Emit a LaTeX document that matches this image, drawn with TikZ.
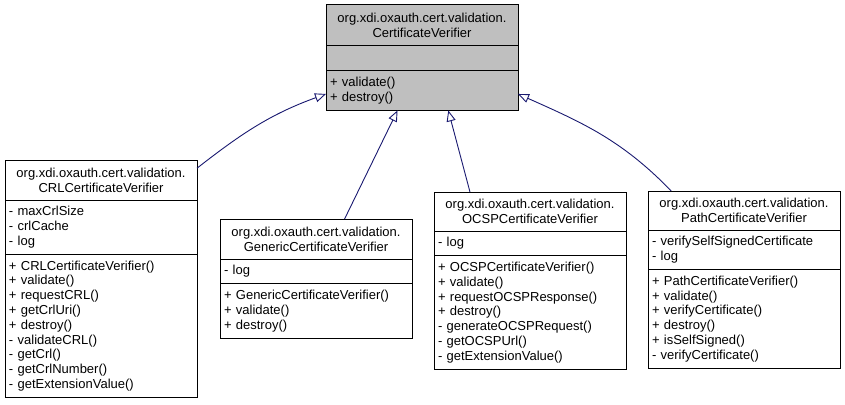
\documentclass[tikz,border=0pt]{standalone}
\usepackage{fontspec}
\setmainfont{Liberation Sans}
\usetikzlibrary{positioning,arrows.meta}
\definecolor{edgeblue}{HTML}{191970}
\definecolor{basegray}{HTML}{BFBFBF}
\begin{document}
\begin{tikzpicture}[x=1pt,y=-1pt,
    clsbox/.style={draw=black,fill=white,line width=1pt,text width=184pt,inner xsep=4pt,inner ysep=0pt,outer sep=0pt,font=\fontsize{13}{14.8}\selectfont},
    clsname/.style={clsbox,align=center,minimum height=40pt,anchor=north west},
    clspart/.style={clsbox,align=left,minimum height={14.8pt*#1+10pt}},
    inherit/.style={draw=edgeblue,line width=.9pt,-{Triangle[open,length=11pt,width=9pt]}}]
    \useasboundingbox (0,0) rectangle (845,404);
    % base class
    \node[clsname,fill=basegray,minimum height=41pt] (base) at (326,5) {org.xdi.oxauth.cert.validation.\\CertificateVerifier};
    \node[clspart=1,fill=basegray,below=0pt of base] (baseattr) {};
    \node[clspart=2,fill=basegray,below=0pt of baseattr] (baseop) {+ validate()\\+ destroy()};
    % derived classes
    \node[clsname] (crl) at (5,160) {org.xdi.oxauth.cert.validation.\\CRLCertificateVerifier};
    \node[clspart=3,below=0pt of crl] (crlattr) {- maxCrlSize\\- crlCache\\- log};
    \node[clspart=9,below=0pt of crlattr] (crlop) {+ CRLCertificateVerifier()\\+ validate()\\+ requestCRL()\\+ getCrlUri()\\+ destroy()\\- validateCRL()\\- getCrl()\\- getCrlNumber()\\- getExtensionValue()};
    \node[clsname] (generic) at (220,219) {org.xdi.oxauth.cert.validation.\\GenericCertificateVerifier};
    \node[clspart=1,below=0pt of generic] (genericattr) {- log};
    \node[clspart=3,below=0pt of genericattr] (genericop) {+ GenericCertificateVerifier()\\+ validate()\\+ destroy()};
    \node[clsname,minimum height=39pt] (ocsp) at (434,192) {org.xdi.oxauth.cert.validation.\\OCSPCertificateVerifier};
    \node[clspart=1,below=0pt of ocsp] (ocspattr) {- log};
    \node[clspart=7,below=0pt of ocspattr] (ocspop) {+ OCSPCertificateVerifier()\\+ validate()\\+ requestOCSPResponse()\\+ destroy()\\- generateOCSPRequest()\\- getOCSPUrl()\\- getExtensionValue()};
    \node[clsname,minimum height=39pt] (pathcv) at (648,191) {org.xdi.oxauth.cert.validation.\\PathCertificateVerifier};
    \node[clspart=2,below=0pt of pathcv] (pathcvattr) {- verifySelfSignedCertificate\\- log};
    \node[clspart=6,below=0pt of pathcvattr] (pathcvop) {+ PathCertificateVerifier()\\+ validate()\\+ verifyCertificate()\\+ destroy()\\+ isSelfSigned()\\- verifyCertificate()};
    % inheritance
    \draw[inherit] (crl.7) to[out=38,in=200] (baseop.182);
    \draw[inherit] (generic.35) -- (baseop.219);
    \draw[inherit] (ocsp.162) -- (baseop.-37);
    \draw[inherit] (pathcv.165) to[out=134,in=-24] (baseop.-2);
\end{tikzpicture}
\end{document}
